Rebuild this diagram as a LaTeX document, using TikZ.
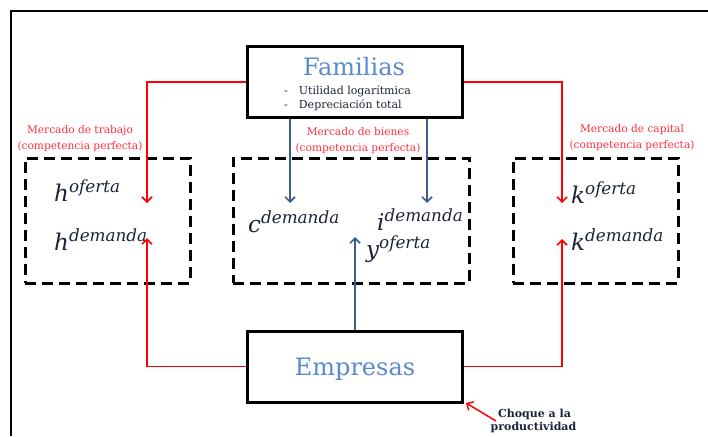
\documentclass[tikz,border=0pt]{standalone}
\usepackage{fontspec}
\setmainfont{DejaVu Serif}
\usetikzlibrary{arrows.meta}
\definecolor{famblue}{HTML}{5A8AC9}
\definecolor{arrblue}{HTML}{3B5E8C}
\definecolor{mred}{HTML}{FF0000}
\definecolor{lred}{HTML}{FF2E3C}
\definecolor{ink}{HTML}{1A2236}
\newcommand\myvar[2]{{\fontsize{23}{25}\selectfont\itshape #1}\raisebox{9pt}{\fontsize{16.8}{17}\selectfont\itshape #2}}
\begin{document}
\begin{tikzpicture}[x=1pt,y=-1pt,
  agent/.style={draw=black,line width=3pt,inner sep=0pt},
  market/.style={draw=black,line width=3pt,dash pattern=on 11pt off 6pt,inner sep=0pt},
  title/.style={text=famblue,font=\fontsize{24}{26}\selectfont,inner sep=0pt,anchor=base},
  item/.style={text=ink,font=\fontsize{11}{13}\selectfont,inner sep=0pt,anchor=base west},
  mlabel/.style={text=lred,font=\fontsize{10.6}{16}\selectfont,align=center,inner sep=0pt},
  var/.style={text=ink,inner sep=0pt,anchor=base west},
  shock/.style={text=ink,font=\bfseries\fontsize{11}{13}\selectfont,inner sep=0pt,anchor=base},
  redarrow/.style={draw=mred,line width=1.6pt,-{Straight Barb[length=5pt,width=10pt]}},
  bluearrow/.style={draw=arrblue,line width=1.6pt,-{Straight Barb[length=5pt,width=10pt]}}
]
\useasboundingbox (0,0) rectangle (708,436);
% outer frame
\coordinate (fTL) at (11,11);
\coordinate (fTR) at (708,11);
\coordinate (fBL) at (11,436);
\draw[line width=2pt] (fTR) -- (fTL) -- (fBL);

% agents
\node[agent,minimum width=215pt,minimum height=70pt] (fam) at (354.5,82) {};
\node[agent,minimum width=215pt,minimum height=71pt] (emp) at (354.5,366.5) {};
\node[title] (famt) at (354,75) {Familias};
\node[item] (it1) at (284,94) {-\hspace{11pt}Utilidad logarítmica};
\node[item] (it2) at (284,108) {-\hspace{11pt}Depreciación total};
\node[title] (empt) at (355,375) {Empresas};

% markets
\node[market,minimum width=165pt,minimum height=125pt] (lab) at (107.5,220.5) {};
\node[market,minimum width=236pt,minimum height=125pt] (goods) at (351,220.5) {};
\node[market,minimum width=165pt,minimum height=125pt] (cap) at (595.5,220.5) {};

% market labels
\node[mlabel] (labl) at (80,138.5) {Mercado de trabajo\\(competencia perfecta)};
\node[mlabel] (goodsl) at (358,141) {Mercado de bienes\\(competencia perfecta)};
\node[mlabel] (capl) at (632,137.5) {Mercado de capital\\(competencia perfecta)};

% variables
\node[var] (ho) at (54,201) {\myvar{h}{oferta}};
\node[var] (hd) at (54,250) {\myvar{h}{demanda}};
\node[var] (cd) at (248,232) {\myvar{c}{demanda}};
\node[var] (id) at (377,230) {\myvar{i}{demanda}};
\node[var] (yo) at (366,257) {\myvar{y}{oferta}};
\node[var] (ko) at (571,203) {\myvar{k}{oferta}};
\node[var] (kd) at (571,250) {\myvar{k}{demanda}};

% arrow end points
\coordinate (hin) at (147,203);
\coordinate (hout) at (147,238);
\coordinate (kin) at (562,203);
\coordinate (kout) at (562,239);
\coordinate (cin) at (290,203);
\coordinate (iin) at (427,203);
\coordinate (yin) at (355,237);

% red connectors
\draw[redarrow] (fam.west) -| (hin);
\draw[redarrow] (emp.west) -| (hout);
\draw[redarrow] (fam.east) -| (kin);
\draw[redarrow] (emp.east) -| (kout);

% blue connectors
\draw[bluearrow] (fam.south -| cin) -- (cin);
\draw[bluearrow] (fam.south -| iin) -- (iin);
\draw[bluearrow] (emp.north -| yin) -- (yin);

% shock
\node[shock] (choque1) at (534.5,417) {Choque a la};
\node[shock] (choque2) at (533.5,430) {productividad};
\coordinate (shs) at (496,421);
\coordinate (she) at (466,403);
\draw[redarrow,line width=1.5pt] (shs) -- (she);
\end{tikzpicture}
\end{document}
